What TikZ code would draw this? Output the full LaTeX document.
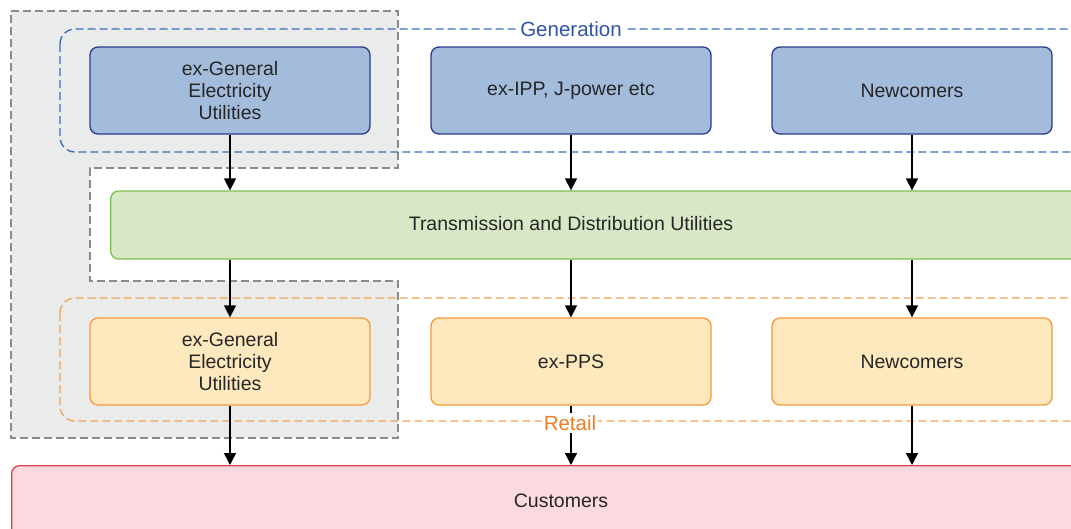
\documentclass[tikz,border=0pt]{standalone}
\usepackage{fontspec}
\setmainfont{Liberation Sans}
\usetikzlibrary{arrows.meta}
\definecolor{grayfill}{HTML}{E9ECEA}
\definecolor{grayline}{HTML}{8A8A8A}
\definecolor{gendash}{HTML}{3F6DBA}
\definecolor{gentext}{HTML}{2F55A4}
\definecolor{bluefill}{HTML}{A4BCDC}
\definecolor{blueline}{HTML}{2B3A8C}
\definecolor{greenfill}{HTML}{D8E8C6}
\definecolor{greenline}{HTML}{7CC04E}
\definecolor{retdash}{HTML}{F4A258}
\definecolor{rettext}{HTML}{F07D28}
\definecolor{orfill}{HTML}{FEE9BE}
\definecolor{orline}{HTML}{F39A38}
\definecolor{cusfill}{HTML}{FADADF}
\definecolor{cusline}{HTML}{D64550}
\tikzset{
  txt/.style={font=\fontsize{19.5}{22}\selectfont, text=black!85, align=center},
  genbox/.style={txt, draw=blueline, fill=bluefill, line width=1.3pt, rounded corners=8pt,
    minimum width=280pt, minimum height=87pt, inner sep=0pt},
  retbox/.style={txt, draw=orline, fill=orfill, line width=1.3pt, rounded corners=8pt,
    minimum width=280pt, minimum height=87pt, inner sep=0pt},
  dashline/.style={line width=1.4pt, dash pattern=on 8pt off 4pt},
  arr/.style={line width=1.5pt, -{Triangle[length=12pt,width=12pt]}},
  grouplabel/.style={font=\fontsize{20.5}{24}\selectfont, fill=white, inner sep=2pt},
}
\begin{document}
\begin{tikzpicture}[x=1pt,y=-1pt]
\useasboundingbox (0,0) rectangle (1071,528);
\clip (0,0) rectangle (1071,528);
% grey group region
\draw[grayline, fill=grayfill, dashline]
  (11,11) -- (398,11) -- (398,168) -- (90,168) -- (90,281) -- (398,281)
  -- (398,438) -- (11,438) -- cycle;
% dashed containers
\draw[gendash, dashline, rounded corners=15pt] (60,29) rectangle (1100,152);
\draw[retdash, dashline, rounded corners=15pt] (60,298) rectangle (1100,421);
% generation boxes
\node[genbox] (g1) at (230,90.5) {ex-General\\Electricity\\Utilities};
\node[genbox] (g2) at (571,90.5) {ex-IPP, J-power etc};
\node[genbox] (g3) at (912,90.5) {Newcomers};
% transmission
\node[draw=greenline, fill=greenfill, line width=1.3pt, rounded corners=8pt,
  minimum width=1000pt, minimum height=68pt, inner sep=0pt, anchor=west] (tdu) at (110,225) {};
\node[txt] (tdutext) at (571,224) {Transmission and Distribution Utilities};
% retail boxes
\node[retbox] (r1) at (230,361.5) {ex-General\\Electricity\\Utilities};
\node[retbox] (r2) at (571,361.5) {ex-PPS};
\node[retbox] (r3) at (912,361.5) {Newcomers};
% customers
\node[draw=cusline, fill=cusfill, line width=1.3pt, rounded corners=8pt,
  minimum width=1100pt, minimum height=90pt, inner sep=0pt, anchor=north west] (cus) at (11,465) {};
\node[txt] (custext) at (561,501) {Customers};
% arrows
\foreach \g/\r in {g1/r1, g2/r2, g3/r3}{
  \draw[arr] (\g.south) -- (\g.south |- tdu.north);
  \draw[arr] (\r.north |- tdu.south) -- (\r.north);
  \draw[arr] (\r.south) -- (\r.south |- cus.north);
}
% group labels
\node[grouplabel, text=gentext] (genlabel) at (571,29) {Generation};
\node[grouplabel, text=rettext] (retlabel) at (570,423) {Retail};
\end{tikzpicture}
\end{document}
